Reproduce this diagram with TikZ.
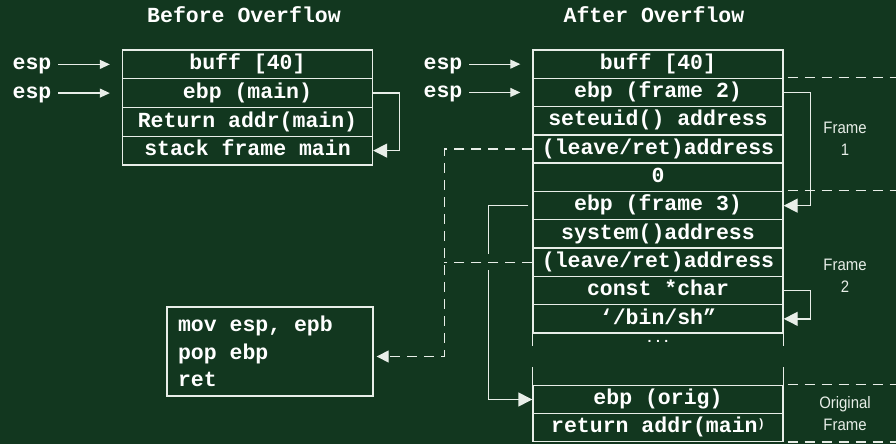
\documentclass[tikz,border=0pt]{standalone}
\usepackage{fontspec}
\setmonofont{Liberation Mono}
\newfontfamily\framefont[FakeStretch=0.9]{Liberation Sans}
\usepackage{tikz}
\usetikzlibrary{positioning}
\usetikzlibrary{arrows.meta}
\definecolor{bggreen}{RGB}{18,55,31}
\definecolor{rulecol}{RGB}{232,238,232}
\newcommand{\codefont}{\ttfamily\bfseries\fontsize{10.75}{13.75}\selectfont}
\newcommand{\smallparen}{\raisebox{2.5pt}{\fontsize{6}{6}\selectfont)}}

\tikzset{
  cell/.style={draw=rulecol, line width=0.7pt, minimum width=125pt, minimum height=14.15pt,
    inner sep=0pt, text=white, font=\codefont, text height=7.2pt, text depth=2pt},
  plaintext/.style={text=white, font=\codefont, text height=7.2pt, text depth=2pt},
  framelabel/.style={text=rulecol, align=center, font=\framefont\fontsize{8.3}{11}\selectfont},
  codebox/.style={draw=rulecol, line width=0.7pt, align=left, text width=92pt, inner xsep=5.5pt,
    minimum height=44.5pt, text=white, font=\codefont,
    execute at begin node={\spaceskip=0pt\xspaceskip=0pt}},
  espline/.style={draw=rulecol, line width=0.6pt, -{Triangle[length=5pt,width=4.5pt]}, shorten >=6pt},
  loop/.style={draw=rulecol, line width=0.7pt, -{Triangle[length=7pt,width=7pt]}},
  dashline/.style={draw=rulecol, line width=0.7pt, dash pattern=on 5pt off 3.5pt},
  sepline/.style={draw=rulecol, line width=0.7pt, dash pattern=on 5pt off 3.5pt}
}

\begin{document}
\begin{tikzpicture}[x=0.5pt,y=-0.5pt]
    \fill[bggreen] (0,0) rectangle (896,444);
    \useasboundingbox (0,0) rectangle (896,444);
    \coordinate (edge) at (896,0);

    \node[plaintext] (before) at (244,17) {Before Overflow};
    \node[plaintext] (after) at (654,17) {After Overflow};

    % stack before the overflow
    \node[cell,minimum height=14.375pt] (B_buff) at (247.5,64.4) {buff [40]};
    \node[cell,minimum height=14.375pt] (B_ebp) at (247.5,93.1) {ebp (main)};
    \node[cell,minimum height=14.375pt] (B_ret) at (247.5,121.9) {Return addr(main)};
    \node[cell,minimum height=14.375pt] (B_main) at (247.5,150.6) {stack frame main};

    \node[plaintext] (esp_B1) at (32,64.4) {esp};
    \node[plaintext] (esp_B2) at (32,93.1) {esp};

    % stack after the overflow
    \node[cell] (A_buff) at (658,64.15) {buff [40]};
    \node[cell] (A_ebp2) at (658,92.45) {ebp (frame 2)};
    \node[cell] (A_setuid) at (658,120.75) {seteuid() address};
    \node[cell] (A_leave1) at (658,149.05) {(leave/ret)address};
    \node[cell] (A_zero) at (658,177.35) {0};
    \node[cell] (A_ebp3) at (658,205.65) {ebp (frame 3)};
    \node[cell] (A_system) at (658,233.95) {system()address};
    \node[cell] (A_leave2) at (658,262.25) {(leave/ret)address};
    \node[cell] (A_const) at (658,290.55) {const *char};
    \node[cell] (A_binsh) at (658,318.85) {‘/bin/sh”};
    \node[anchor=base, inner sep=0pt, text=white, font=\ttfamily\bfseries\fontsize{7}{7}\selectfont]
        (A_dots) at (658,343) {...};
    \node[cell,minimum height=14pt] (A_ebporig) at (658,399.5) {ebp (orig)};
    \node[cell,minimum height=14pt] (A_retmain) at (658,427.5) {return addr(main\smallparen};

    \node[plaintext] (esp_A1) at (443,64.15) {esp};
    \node[plaintext] (esp_A2) at (443,92.45) {esp};

    \node[codebox] (code) at (270,351.5) {mov esp, epb\\pop ebp\\ret};

    \node[framelabel] (frame1) at (845,139) {Frame\\1};
    \node[framelabel] (frame2) at (845,276) {Frame\\2};
    \node[framelabel] (frame0) at (845,414) {Original\\Frame};

    % open sides round the gap
    \draw[rulecol, line width=0.7pt] (A_binsh.south west) -- ++(0,12);
    \draw[rulecol, line width=0.7pt] (A_binsh.south east) -- ++(0,12);
    \draw[rulecol, line width=0.7pt] (A_ebporig.north west) -- ++(0,-18);
    \draw[rulecol, line width=0.7pt] (A_ebporig.north east) -- ++(0,-18);

    \draw[espline] (esp_B1.east) -- (B_buff.west);
    \draw[espline] (esp_B2.east) -- (B_ebp.west);
    \draw[espline] (esp_A1.east) -- (A_buff.west);
    \draw[espline] (esp_A2.east) -- (A_ebp2.west);

    \draw[loop] (B_ebp.east) -- ++(26,0) |- (B_main.east);
    \draw[loop] (A_ebp2.east) -- ++(27,0) |- (A_ebp3.east);
    \draw[loop] (A_const.east) -- ++(27,0) |- (A_binsh.east);
    \draw[loop, shorten <=2pt] (A_ebp3.west) -- ++(-44,0) |- (A_ebporig.west);

    \draw[draw=bggreen, line width=2pt] (489,254) -- (489,270);
    \draw[dashline, -{Triangle[length=6pt,width=6pt]}, shorten >=1.5pt]
        (A_leave1.west) -- ++(-88,0) |- ([yshift=-2.5pt]code.east);
    \draw[dashline] (A_leave2.west) -- ++(-88,0);

    \draw[sepline] ([xshift=2pt]A_ebp2.north east) -- (A_ebp2.north east -| edge);
    \draw[sepline] ([xshift=2pt]A_ebp3.north east) -- (A_ebp3.north east -| edge);
    \draw[sepline] ([xshift=2pt]A_ebporig.north east) -- (A_ebporig.north east -| edge);
    \draw[sepline] ([xshift=2pt]A_retmain.south east) -- (A_retmain.south east -| edge);
\end{tikzpicture}
\end{document}
